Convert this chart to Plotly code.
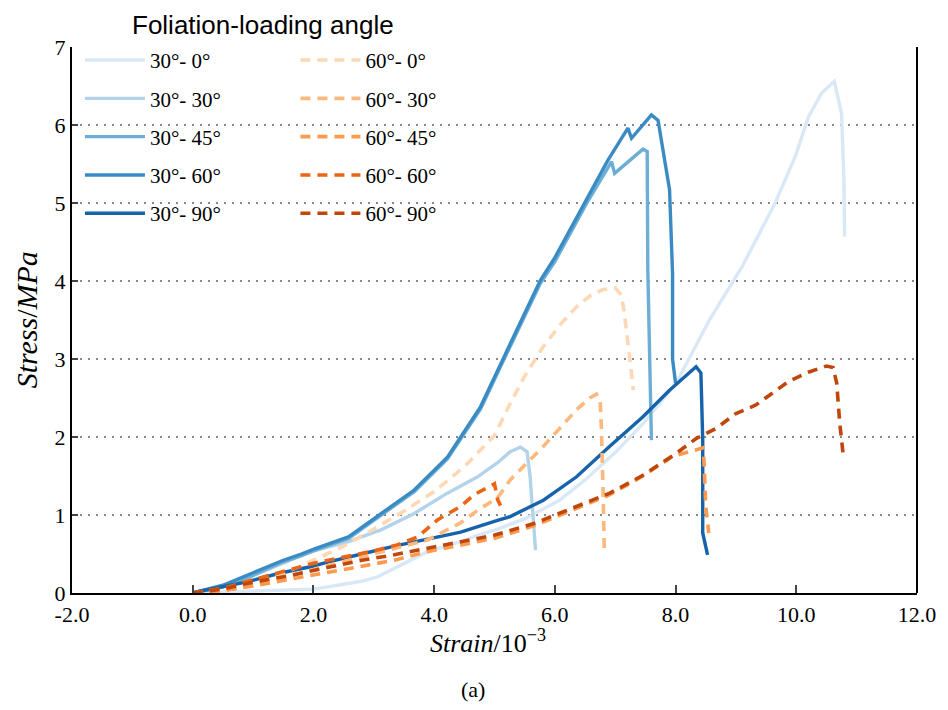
import plotly.graph_objects as go

# ---- data (strain in 1e-3, stress in MPa) ----
names_30 = ["30°- 0°", "30°- 30°", "30°- 45°", "30°- 60°", "30°- 90°"]
names_60 = ["60°- 0°", "60°- 30°", "60°- 45°", "60°- 60°", "60°- 90°"]

x_30_0 = [0, 0.5, 1.0, 1.5, 2.0, 2.4, 2.8, 3.07, 3.62, 3.89, 4.44, 4.72, 5.05, 5.5, 6.08, 6.5, 7.0, 7.46, 8.01, 8.56, 9.1, 9.65, 9.98, 10.2, 10.42, 10.63, 10.75, 10.79, 10.8]
y_30_0 = [0, 0.01, 0.02, 0.03, 0.05, 0.1, 0.15, 0.21, 0.42, 0.53, 0.66, 0.74, 0.82, 0.95, 1.19, 1.45, 1.8, 2.17, 2.69, 3.5, 4.18, 5.0, 5.59, 6.1, 6.41, 6.56, 6.15, 5.29, 4.57]

x_30_30 = [0, 0.5, 1.0, 1.5, 1.92, 2.3, 2.58, 3.12, 3.67, 4.22, 4.72, 5.05, 5.26, 5.43, 5.54, 5.59, 5.68]
y_30_30 = [0, 0.08, 0.22, 0.38, 0.52, 0.6, 0.66, 0.81, 1.02, 1.28, 1.49, 1.67, 1.81, 1.87, 1.81, 1.49, 0.55]

x_30_45 = [0, 0.5, 1.0, 1.5, 1.8, 2.03, 2.58, 3.12, 3.67, 4.22, 4.77, 5.16, 5.76, 6.0, 6.53, 6.94, 6.99, 7.46, 7.53, 7.54, 7.57, 7.6]
y_30_45 = [0, 0.08, 0.23, 0.4, 0.48, 0.55, 0.7, 1.0, 1.3, 1.72, 2.36, 3.0, 3.97, 4.25, 5.0, 5.53, 5.38, 5.69, 5.66, 4.14, 3.0, 1.96]

x_30_60 = [0, 0.5, 1.0, 1.5, 1.8, 2.03, 2.58, 3.12, 3.67, 4.22, 4.77, 5.16, 5.76, 6.0, 6.53, 6.88, 7.21, 7.27, 7.6, 7.71, 7.9, 7.95, 7.95, 8.0]
y_30_60 = [0, 0.1, 0.26, 0.42, 0.5, 0.57, 0.72, 1.02, 1.32, 1.74, 2.39, 3.03, 4.01, 4.3, 5.04, 5.55, 5.96, 5.83, 6.13, 6.06, 5.17, 4.1, 3.0, 2.69]

x_30_90 = [0, 0.1, 0.88, 1.42, 1.97, 2.25, 2.8, 3.34, 3.89, 4.44, 5.05, 5.26, 5.81, 6.36, 6.91, 7.46, 7.9, 8.34, 8.42, 8.45, 8.45, 8.53]
y_30_90 = [0, 0.02, 0.14, 0.25, 0.34, 0.4, 0.5, 0.6, 0.69, 0.78, 0.93, 0.98, 1.19, 1.49, 1.88, 2.26, 2.6, 2.9, 2.82, 1.96, 0.77, 0.49]

x_60_0 = [0, 0.5, 1.0, 1.5, 2.0, 2.5, 3.0, 3.5, 4.0, 4.5, 5.0, 5.26, 5.5, 5.81, 6.1, 6.36, 6.6, 6.8, 7.0, 7.1, 7.15, 7.2, 7.25, 7.3]
y_60_0 = [0, 0.04, 0.12, 0.25, 0.42, 0.6, 0.82, 1.05, 1.3, 1.62, 2.02, 2.43, 2.78, 3.16, 3.45, 3.67, 3.82, 3.89, 3.91, 3.82, 3.6, 3.3, 2.95, 2.6]

x_60_30 = [0, 0.5, 1.0, 1.5, 2.0, 2.5, 3.0, 3.5, 3.89, 4.44, 4.72, 5.05, 5.26, 5.81, 6.36, 6.58, 6.69, 6.75, 6.77, 6.8, 6.82]
y_60_30 = [0, 0.03, 0.1, 0.2, 0.3, 0.4, 0.5, 0.6, 0.68, 0.9, 1.06, 1.22, 1.45, 1.88, 2.35, 2.5, 2.55, 2.47, 2.13, 1.28, 0.51]

x_60_45 = [0, 0.5, 1.0, 1.5, 2.0, 2.25, 2.8, 3.34, 3.89, 4.44, 4.99, 5.65, 6.36, 6.91, 7.46, 7.95, 8.45, 8.47, 8.5, 8.55]
y_60_45 = [0, 0.03, 0.09, 0.16, 0.23, 0.27, 0.34, 0.42, 0.53, 0.62, 0.7, 0.86, 1.08, 1.26, 1.5, 1.75, 1.86, 1.71, 1.11, 0.77]

x_60_60 = [0, 0.5, 1.0, 1.5, 2.0, 2.5, 3.0, 3.4, 3.73, 4.06, 4.44, 4.66, 4.94, 5.0, 5.05, 5.1]
y_60_60 = [0, 0.06, 0.17, 0.28, 0.38, 0.46, 0.54, 0.62, 0.72, 0.94, 1.11, 1.26, 1.38, 1.4, 1.2, 1.12]

x_60_90 = [0, 0.5, 0.88, 1.59, 2.25, 2.8, 3.34, 3.89, 4.44, 4.99, 5.65, 6.36, 6.91, 7.46, 8.01, 8.34, 8.67, 9.0, 9.33, 9.87, 10.2, 10.5, 10.61, 10.67, 10.72, 10.78]
y_60_90 = [0, 0.05, 0.12, 0.22, 0.33, 0.42, 0.49, 0.57, 0.66, 0.74, 0.89, 1.11, 1.28, 1.51, 1.79, 1.98, 2.11, 2.3, 2.41, 2.71, 2.83, 2.91, 2.89, 2.69, 2.18, 1.75]

x_ticks = [-2, 0, 2, 4, 6, 8, 10, 12]
x_tick_labels = ["-2.0", "0.0", "2.0", "4.0", "6.0", "8.0", "10.0", "12.0"]
y_ticks = [0, 1, 2, 3, 4, 5, 6, 7]

colors_30 = ["#d9e8f6", "#b3d3ea", "#6caed6", "#3a8bc4", "#1662ab"]
colors_60 = ["#fdd8b5", "#fdb97d", "#fd9a4f", "#ec6516", "#c0470c"]

series_30 = [(x_30_0, y_30_0), (x_30_30, y_30_30), (x_30_45, y_30_45), (x_30_60, y_30_60), (x_30_90, y_30_90)]
series_60 = [(x_60_0, y_60_0), (x_60_30, y_60_30), (x_60_45, y_60_45), (x_60_60, y_60_60), (x_60_90, y_60_90)]

SERIF = "Liberation Serif, Times New Roman, serif"

fig = go.Figure()
for i, ((xs, ys), nm, c) in enumerate(zip(series_30, names_30, colors_30)):
    fig.add_trace(go.Scatter(x=xs, y=ys, mode="lines", name=nm,
                             line=dict(color=c, width=3.4),
                             legend="legend", legendgroup="a%d" % i))
for i, ((xs, ys), nm, c) in enumerate(zip(series_60, names_60, colors_60)):
    fig.add_trace(go.Scatter(x=xs, y=ys, mode="lines", name=nm,
                             line=dict(color=c, width=3.6, dash="10px,7px"),
                             legend="legend2", legendgroup="b%d" % i))

legend_common = dict(
    bgcolor="rgba(0,0,0,0)",
    font=dict(family=SERIF, size=21, color="black"),
    yanchor="top", xanchor="left",
    traceorder="grouped", tracegroupgap=8,
    itemwidth=60,
)

# page body has an 8px margin: size the figure so the plot area lands where the reference has it
fig.update_layout(
    width=940, height=702,
    margin=dict(l=64, r=26, t=39, b=117),
    paper_bgcolor="white", plot_bgcolor="white",
    showlegend=True,
    legend=dict(x=0.0094, y=1.013, **legend_common),
    legend2=dict(x=0.2644, y=1.013, **legend_common),
    xaxis=dict(
        range=[-2, 12], tickvals=x_ticks, ticktext=x_tick_labels,
        showline=True, linecolor="black", linewidth=2, mirror=False,
        ticks="inside", ticklen=8, tickcolor="#444", tickwidth=1.5,
        showgrid=False, zeroline=False, ticklabelstandoff=1,
        tickfont=dict(family=SERIF, size=22, color="black"),
    ),
    yaxis=dict(
        range=[0, 7], tickvals=y_ticks,
        showline=True, linecolor="black", linewidth=2,
        ticks="inside", ticklen=6, tickcolor="#444", tickwidth=1.5,
        showgrid=True, gridcolor="#888", griddash="2px,6px", gridwidth=1.5,
        zeroline=False,
        tickfont=dict(family=SERIF, size=22, color="black"),
    ),
)

# right spine
fig.add_shape(type="line", xref="paper", yref="paper", x0=1, x1=1, y0=0, y1=1,
              line=dict(color="black", width=2))

fig.add_annotation(text="Foliation-loading angle", xref="paper", yref="paper",
                   x=0.226, y=1.04, xanchor="center", yanchor="middle", showarrow=False,
                   font=dict(family="Liberation Sans, Arial, sans-serif", size=26, color="black"))
fig.add_annotation(text="<i>Strain</i>/10<sup>−3</sup>", xref="paper", yref="paper",
                   x=0.492, y=-0.089, xanchor="center", yanchor="middle", showarrow=False,
                   font=dict(family=SERIF, size=26, color="black"))
fig.add_annotation(text="<i>Stress</i>/<i>MPa</i>", xref="paper", yref="paper",
                   x=-0.054, y=0.5, xanchor="center", yanchor="middle", showarrow=False,
                   textangle=-90,
                   font=dict(family=SERIF, size=30, color="black"))
fig.add_annotation(text="(a)", xref="paper", yref="paper",
                   x=0.474, y=-0.177, xanchor="center", yanchor="middle", showarrow=False,
                   font=dict(family=SERIF, size=22, color="black"))

fig.write_html("out.html")
